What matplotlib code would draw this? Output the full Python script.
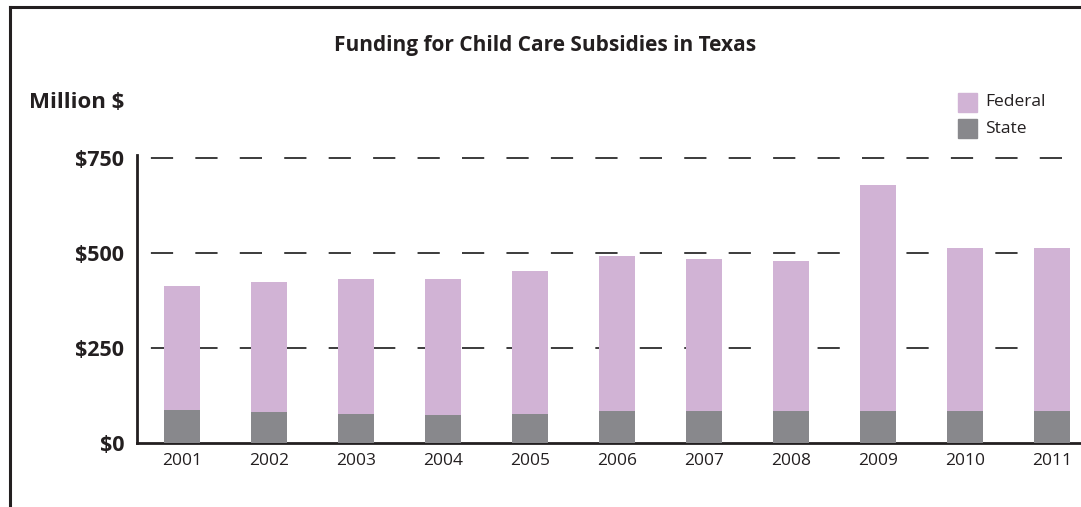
import matplotlib
matplotlib.use('Agg')
import matplotlib.pyplot as plt
from matplotlib.lines import Line2D
from matplotlib.patches import Rectangle

years = ['2001', '2002', '2003', '2004', '2005', '2006', '2007', '2008', '2009', '2010', '2011']
state = [87, 81, 76, 73, 76, 84, 84, 84, 84, 84, 84]
total = [415, 425, 433, 433, 454, 493, 486, 480, 680, 514, 514]
federal = [t - s for t, s in zip(total, state)]
yticks = [0, 250, 500, 750]
ytick_labels = ['$0', '$250', '$500', '$750']

FED_COLOR = '#D1B3D5'
STATE_COLOR = '#88888C'
TEXT = '#231f20'

plt.rcParams['font.family'] = 'Open Sans'
plt.rcParams['lines.scale_dashes'] = False

W, H = 1081, 507
fig = plt.figure(figsize=(W / 100, H / 100), dpi=100)

# axes placed in pixel coordinates
left, right, bottom, top = 137, 1081, 443, 154.6
ax = fig.add_axes([left / W, 1 - bottom / H, (right - left) / W, (bottom - top) / H])

x = list(range(len(years)))
ax.bar(x, state, width=0.414, color=STATE_COLOR, zorder=3)
ax.bar(x, federal, width=0.414, bottom=state, color=FED_COLOR, zorder=3)

for v in yticks[1:]:
    ax.axhline(v, color='#1a1a1a', lw=1.2, linestyle=(22, (16, 16)), zorder=2)

ax.set_xlim(-0.517, 10.333)
ax.set_ylim(0, 760)
ax.set_xticks(x)
ax.set_xticklabels(years, fontsize=12.5, color=TEXT)
ax.set_yticks(yticks)
ax.set_yticklabels(ytick_labels, fontsize=15.5, fontweight='bold', color=TEXT)
ax.tick_params(axis='both', length=0)
ax.tick_params(axis='x', pad=7)
ax.tick_params(axis='y', pad=9)
for s in ['top', 'right']:
    ax.spines[s].set_visible(False)
for s in ['left', 'bottom']:
    ax.spines[s].set_linewidth(2)
    ax.spines[s].set_color(TEXT)

# title and unit label
fig.text(545 / W, 1 - 45 / H, 'Funding for Child Care Subsidies in Texas',
         ha='center', va='center', fontsize=15, fontweight='bold', color=TEXT)
fig.text(29 / W, 1 - 103 / H, 'Million $', ha='left', va='center',
         fontsize=16, fontweight='bold', color=TEXT)

# legend
for i, (lab, col) in enumerate([('Federal', FED_COLOR), ('State', STATE_COLOR)]):
    yc = 102.5 + i * 26
    fig.patches.append(Rectangle((958 / W, 1 - (yc + 9.5) / H), 19 / W, 19 / H,
                                 transform=fig.transFigure, color=col))
    fig.text(985 / W, 1 - yc / H, lab, ha='left', va='center',
             fontsize=12.5, color=TEXT)

# frame lines (top and left)
fig.lines.append(Line2D([10 / W, 1], [1 - 7 / H, 1 - 7 / H], transform=fig.transFigure,
                        color=TEXT, lw=2.2))
fig.lines.append(Line2D([10 / W, 10 / W], [0, 1 - 7 / H], transform=fig.transFigure,
                        color=TEXT, lw=2.2))

fig.savefig('out.png', dpi=100)
